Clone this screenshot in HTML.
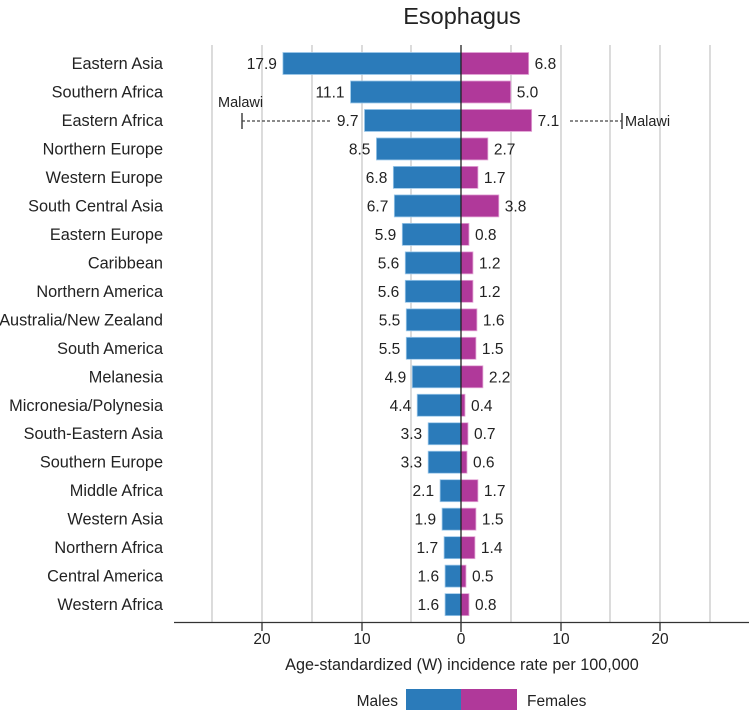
<!DOCTYPE html>
<html><head><meta charset="utf-8"><style>
html,body{margin:0;padding:0;background:#fff;}
svg{display:block;font-family:"Liberation Sans",Arial,sans-serif;}
</style></head><body>
<svg width="749" height="710" viewBox="0 0 749 710" xmlns="http://www.w3.org/2000/svg">
<text x="462" y="24" font-size="23.5" text-anchor="middle" fill="#222">Esophagus</text>
<g stroke="#c8c8c8" stroke-width="1.3">
<line x1="212" y1="45" x2="212" y2="622"/><line x1="262" y1="45" x2="262" y2="622"/>
<line x1="312" y1="45" x2="312" y2="622"/><line x1="362" y1="45" x2="362" y2="622"/>
<line x1="411" y1="45" x2="411" y2="622"/><line x1="511" y1="45" x2="511" y2="622"/>
<line x1="561" y1="45" x2="561" y2="622"/><line x1="610" y1="45" x2="610" y2="622"/>
<line x1="660" y1="45" x2="660" y2="622"/><line x1="710" y1="45" x2="710" y2="622"/>
</g>
<g id="bars"></g>
<line x1="461" y1="45" x2="461" y2="632" stroke="#222" stroke-width="1.3"/>
<line x1="174" y1="622.5" x2="749" y2="622.5" stroke="#333" stroke-width="1.3"/>
<g stroke="#333" stroke-width="1.3">
<line x1="262" y1="622" x2="262" y2="631"/><line x1="362" y1="622" x2="362" y2="631"/>
<line x1="561" y1="622" x2="561" y2="631"/><line x1="660" y1="622" x2="660" y2="631"/>
</g>
<g font-size="15.5" fill="#222" text-anchor="middle">
<text x="262" y="644">20</text><text x="362" y="644">10</text><text x="461" y="644">0</text>
<text x="561" y="644">10</text><text x="660" y="644">20</text>
</g>
<text x="462" y="670" font-size="16.2" text-anchor="middle" fill="#222">Age-standardized (W) incidence rate per 100,000</text>
<rect x="406" y="689" width="55" height="21" fill="#2b7bba"/>
<rect x="461" y="689" width="56" height="21" fill="#b0399a"/>
<text x="398" y="706" font-size="15.5" text-anchor="end" fill="#222">Males</text>
<text x="527" y="706" font-size="15.5" fill="#222">Females</text>
<g stroke="#444" stroke-width="1.3" stroke-dasharray="3,2">
<line x1="242" y1="121" x2="332" y2="121"/>
<line x1="570" y1="121" x2="622" y2="121"/>
</g>
<line x1="242" y1="113" x2="242" y2="129" stroke="#444" stroke-width="1.5"/>
<line x1="622" y1="113" x2="622" y2="129" stroke="#444" stroke-width="1.5"/>
<text x="218" y="107" font-size="14.5" fill="#222">Malawi</text>
<text x="625" y="126" font-size="14.5" fill="#222">Malawi</text>
<g id="labels"></g>
<script>
var d=[["Eastern Asia",17.9,6.8],["Southern Africa",11.1,5.0],["Eastern Africa",9.7,7.1],["Northern Europe",8.5,2.7],["Western Europe",6.8,1.7],["South Central Asia",6.7,3.8],["Eastern Europe",5.9,0.8],["Caribbean",5.6,1.2],["Northern America",5.6,1.2],["Australia/New Zealand",5.5,1.6],["South America",5.5,1.5],["Melanesia",4.9,2.2],["Micronesia/Polynesia",4.4,0.4],["South-Eastern Asia",3.3,0.7],["Southern Europe",3.3,0.6],["Middle Africa",2.1,1.7],["Western Asia",1.9,1.5],["Northern Africa",1.7,1.4],["Central America",1.6,0.5],["Western Africa",1.6,0.8]];
var ns="http://www.w3.org/2000/svg",b=document.getElementById("bars"),l=document.getElementById("labels");
function el(p,t,a,txt){var e=document.createElementNS(ns,t);for(var k in a)e.setAttribute(k,a[k]);if(txt)e.textContent=txt;p.appendChild(e);}
var s=9.95;
d.forEach(function(r,i){var c=63.5+i*28.48;var m=r[1]*s,f=r[2]*s;
el(b,"rect",{x:461-m,y:c-11,width:m,height:22,fill:"#2b7bba",stroke:"#9cc8ea","stroke-width":0.8});
el(b,"rect",{x:461,y:c-11,width:f,height:22,fill:"#b0399a",stroke:"#e3a6d6","stroke-width":0.8});
el(l,"text",{x:163,y:c+5.5,"font-size":16.3,"text-anchor":"end",fill:"#222"},r[0]);
el(l,"text",{x:461-m-6,y:c+5.5,"font-size":15.5,"text-anchor":"end",fill:"#222"},r[1].toFixed(1));
el(l,"text",{x:461+f+6,y:c+5.5,"font-size":15.5,fill:"#222"},r[2].toFixed(1));
});
</script>
</svg>
</body></html>
